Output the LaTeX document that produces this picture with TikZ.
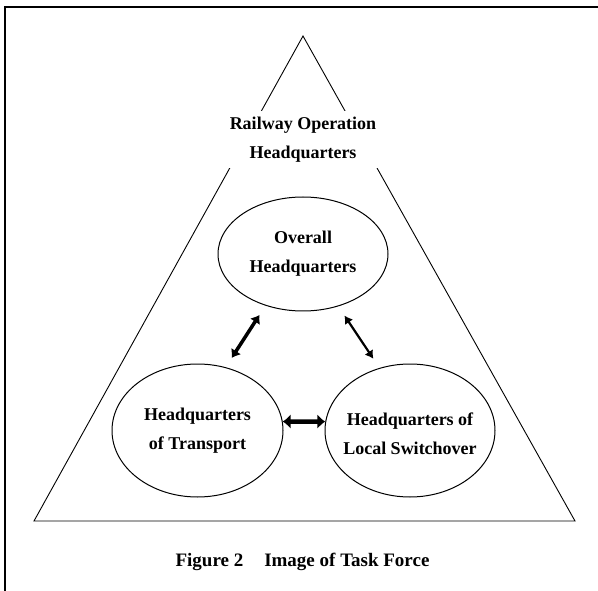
\documentclass[tikz,border=0pt]{standalone}
\usepackage{fontspec}
\setmainfont{Liberation Serif}
\usepackage{tikz}
\usetikzlibrary{arrows.meta,shapes.geometric}

\begin{document}
\begin{tikzpicture}[x=1pt, y=-1pt,
		hq/.style={draw, ellipse, line width=1pt, inner sep=0pt},
		hqtext/.style={align=center, font=\fontsize{18}{29}\selectfont\bfseries},
		link/.style={{Latex[length=8pt,width=#1]}-{Latex[length=8pt,width=#1]}}]
	\useasboundingbox (0,0) rectangle (598,591);
	% frame
	\draw[line width=1.5pt] (598,7) -- (5,7) -- (5,591);
	% task force triangle
	\coordinate (apex) at (303,36);
	\coordinate (bl) at (34,521);
	\coordinate (br) at (575,521);
	\draw[line width=0.9pt] (apex) -- (bl) -- (br) -- cycle;
	\node[hqtext, fill=white, inner xsep=4pt, inner ysep=6pt] (railway) at (303,139.5) {Railway Operation\\Headquarters};
	% headquarters
	\node[hq, minimum width=170pt, minimum height=114pt] (overall) at (303,254) {};
	\node[hq, minimum width=171pt, minimum height=133pt] (transport) at (197.5,430.5) {};
	\node[hq, minimum width=170pt, minimum height=133pt] (local) at (410,430.5) {};
	\node[hqtext] (overallText) at (overall) {Overall\\Headquarters};
	\node[hqtext] (transportText) at (transport) {Headquarters\\of Transport};
	\node[hqtext] (localText) at ([yshift=-3pt]local.center) {Headquarters of\\Local Switchover};
	% links
	\draw[link=12pt, line width=3.5pt, shorten <=11pt, shorten >=11pt] (transport.66) -- (overall.234);
	\draw[link=10pt, line width=2.2pt, shorten <=11pt, shorten >=11pt] (overall.304) -- (local.116);
	\draw[link=15pt, line width=4.5pt] (transport.6) -- (local.174);
	% caption
	\node[font=\fontsize{19}{23}\selectfont\bfseries, anchor=base] (caption) at (302.5,566) {Figure 2\hspace{21pt}Image of Task Force};
\end{tikzpicture}
\end{document}
